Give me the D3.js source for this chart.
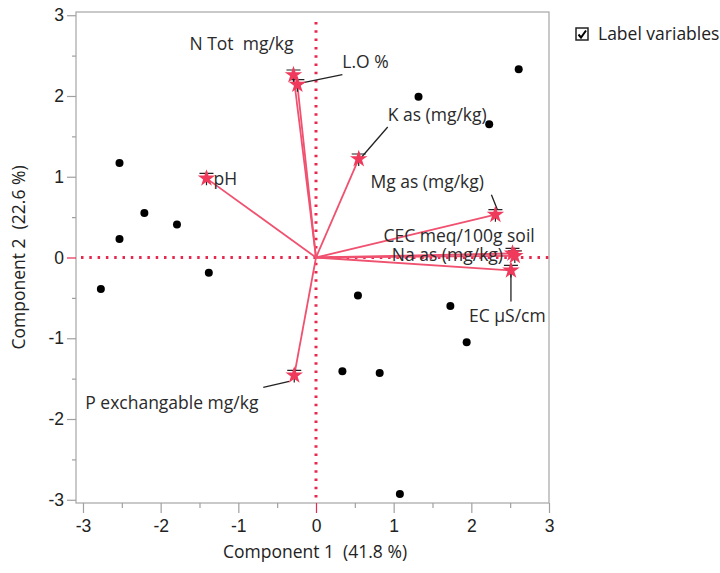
<!DOCTYPE html>
<html>
<head>
<meta charset="utf-8">
<script src="https://cdn.jsdelivr.net/npm/d3@7"></script>
<style>
  body { margin: 0; background: #fff; }
  svg { font-family: "Open Sans", "Noto Sans", sans-serif; }
  svg text { white-space: pre; }
</style>
</head>
<body>
<div id="chart"></div>
<script>
// scores (observations)
const scoreX = [2.61, 1.32, 2.23, -2.53, -2.21, -1.79, -2.53, -1.38, -2.77, 0.54, 1.73, 1.94, 0.34, 0.82, 1.08];
const scoreY = [2.33, 1.99, 1.65, 1.17, 0.55, 0.41, 0.23, -0.19, -0.39, -0.47, -0.60, -1.05, -1.41, -1.43, -2.93];

// loadings (variables)
const loadNames = ['N Tot  mg/kg', 'L.O %', 'K as (mg/kg)', 'pH', 'Mg as (mg/kg)', 'CEC meq/100g soil', 'Na as (mg/kg)', 'EC \u00b5S/cm', 'P exchangable mg/kg'];
const loadX = [-0.29, -0.24, 0.55, -1.41, 2.31, 2.53, 2.56, 2.51, -0.28];
const loadY = [2.26, 2.14, 1.22, 0.98, 0.53, 0.05, 0.02, -0.16, -1.46];

const xTicks = [-3, -2, -1, 0, 1, 2, 3];
const yTicks = [-3, -2, -1, 0, 1, 2, 3];
const xTitle = 'Component 1  (41.8 %)';
const yTitle = 'Component 2  (22.6 %)';

// label placement, px relative to the star (text start, middle line) + leader line
const labelLayout = [
  { dx: -104, dy: -31, leader: null },
  { dx: 45, dy: -23, leader: [45, -10, 1, -1] },
  { dx: 29, dy: -44, leader: [29, -32, 3, -2] },
  { dx: 7, dy: 1, leader: null },
  { dx: -125, dy: -33, leader: [-4, -20, 2, -5] },
  { dx: -129, dy: -18, leader: null },
  { dx: -123, dy: -1, leader: null },
  { dx: -42, dy: 45, leader: [0, 31, 0, 2] },
  { dx: -209, dy: 27, leader: [-31, 12, -5, 6] }
];

const W = 720, H = 573;
const frame = { left: 76, right: 549, top: 12, bottom: 503 };
const red = '#e8294f';
const vecColor = '#f0516f';
const fs = '17.5px';

const svg = d3.select('#chart').append('svg')
  .attr('width', W)
  .attr('height', H);

const x = d3.scaleLinear().domain([-3.09, 3]).range([frame.left, frame.right]);
const y = d3.scaleLinear().domain([-3.04, 3.04]).range([frame.bottom, frame.top]);

// frame
svg.append('rect')
  .attr('x', frame.left).attr('y', frame.top)
  .attr('width', frame.right - frame.left).attr('height', frame.bottom - frame.top)
  .attr('fill', 'none').attr('stroke', '#a6a6a6').attr('stroke-width', 1.2);

// axes
const minorX = d3.range(-3, 3.01, 0.5).filter(v => !Number.isInteger(v));
const minorY = d3.range(-3, 3.01, 0.5).filter(v => !Number.isInteger(v));
const fmt = d => d < 0 ? '-' + Math.abs(d) : String(d);

const xAxis = svg.append('g')
  .attr('transform', `translate(0,${frame.bottom})`)
  .call(d3.axisBottom(x).tickValues(xTicks).tickSize(10).tickPadding(7).tickFormat(fmt));
const xMinor = svg.append('g')
  .attr('transform', `translate(0,${frame.bottom})`)
  .call(d3.axisBottom(x).tickValues(minorX).tickSize(5).tickFormat(''));
const yAxis = svg.append('g')
  .attr('transform', `translate(${frame.left},0)`)
  .call(d3.axisLeft(y).tickValues(yTicks).tickSize(9).tickPadding(3).tickFormat(fmt));
const yMinor = svg.append('g')
  .attr('transform', `translate(${frame.left},0)`)
  .call(d3.axisLeft(y).tickValues(minorY).tickSize(4).tickFormat(''));

[xAxis, xMinor, yAxis, yMinor].forEach(g => {
  g.select('.domain').remove();
  g.selectAll('line').attr('stroke', '#a0a0a0').attr('stroke-width', 1.2);
  g.selectAll('text').attr('fill', '#222').style('font-size', fs);
});
xAxis.selectAll('.tick').filter(d => d === 0).select('line').attr('stroke', red);
yAxis.selectAll('.tick').filter(d => d === 0).select('line').attr('stroke', red);

// axis titles
svg.append('text')
  .attr('x', x(0) - 1).attr('y', 558)
  .attr('text-anchor', 'middle')
  .style('font-size', fs).attr('fill', '#222')
  .text(xTitle);
svg.append('text')
  .attr('transform', `translate(25,${y(0)}) rotate(-90)`)
  .attr('text-anchor', 'middle')
  .style('font-size', fs).attr('fill', '#222')
  .text(yTitle);

// dotted reference lines
svg.append('line')
  .attr('x1', x(0)).attr('x2', x(0))
  .attr('y1', 22).attr('y2', frame.bottom)
  .attr('stroke', red).attr('stroke-width', 3)
  .attr('stroke-dasharray', '2.5,5.8');
svg.append('line')
  .attr('x1', frame.left + 5).attr('x2', frame.right)
  .attr('y1', y(0)).attr('y2', y(0))
  .attr('stroke', red).attr('stroke-width', 3)
  .attr('stroke-dasharray', '2.5,5.8');

// score points
const scores = scoreX.map((v, i) => ({ x: v, y: scoreY[i] }));
svg.append('g').selectAll('circle')
  .data(scores)
  .join('circle')
  .attr('cx', d => x(d.x))
  .attr('cy', d => y(d.y))
  .attr('r', 4)
  .attr('fill', '#000');

// loadings
const loads = loadNames.map((n, i) => ({ name: n, x: loadX[i], y: loadY[i], lay: labelLayout[i] }));

svg.append('g').selectAll('line')
  .data(loads)
  .join('line')
  .attr('x1', x(0)).attr('y1', y(0))
  .attr('x2', d => x(d.x)).attr('y2', d => y(d.y))
  .attr('stroke', vecColor).attr('stroke-width', 1.8);

// leader lines
svg.append('g').selectAll('line')
  .data(loads.filter(d => d.lay.leader))
  .join('line')
  .attr('x1', d => x(d.x) + d.lay.leader[0]).attr('y1', d => y(d.y) + d.lay.leader[1])
  .attr('x2', d => x(d.x) + d.lay.leader[2]).attr('y2', d => y(d.y) + d.lay.leader[3])
  .attr('stroke', '#222').attr('stroke-width', 1.3);

// small black cross under each marker
svg.append('g').selectAll('path')
  .data(loads)
  .join('path')
  .attr('d', d => {
    const cx = x(d.x), cy = y(d.y);
    return `M${cx - 7},${cy - 5}H${cx + 7}M${cx},${cy - 7}V${cy + 7}`;
  })
  .attr('stroke', '#222').attr('stroke-width', 1.2).attr('fill', 'none');

const star = d3.symbol().type(d3.symbolStar).size(95);
svg.append('g').selectAll('path')
  .data(loads)
  .join('path')
  .attr('transform', d => `translate(${x(d.x)},${y(d.y)})`)
  .attr('d', star)
  .attr('fill', '#f03a5c');

// variable labels
svg.append('g').selectAll('text')
  .data(loads)
  .join('text')
  .attr('x', d => x(d.x) + d.lay.dx)
  .attr('y', d => y(d.y) + d.lay.dy)
  .attr('dy', '0.35em')
  .style('font-size', fs)
  .attr('fill', '#2a2a2a')
  .text(d => d.name);

// "Label variables" checkbox
const cb = svg.append('g').attr('transform', 'translate(576,28)');
cb.append('rect')
  .attr('width', 12).attr('height', 12)
  .attr('fill', '#fff').attr('stroke', '#222').attr('stroke-width', 1.5);
cb.append('path')
  .attr('d', 'M2.5,6.5 L5,9.5 L10,2.5')
  .attr('fill', 'none').attr('stroke', '#000').attr('stroke-width', 2);
svg.append('text')
  .attr('x', 598).attr('y', 34).attr('dy', '0.35em')
  .style('font-size', fs).attr('fill', '#222')
  .text('Label variables');
</script>
</body>
</html>
